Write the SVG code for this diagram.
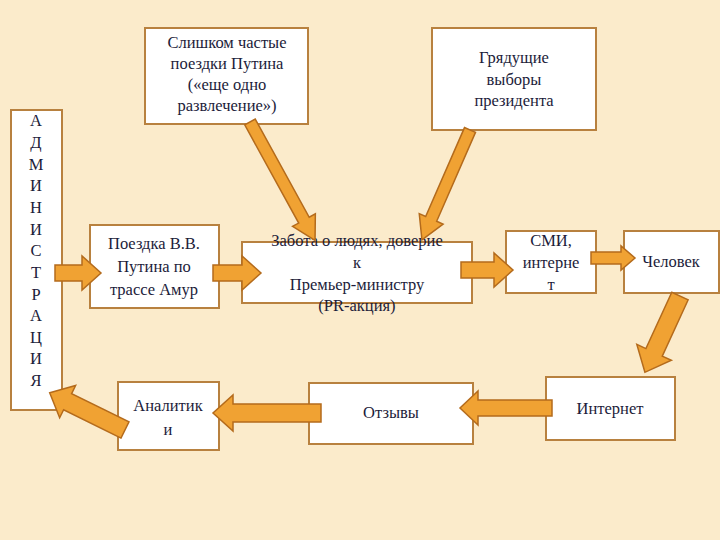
<svg xmlns="http://www.w3.org/2000/svg" width="720" height="540" viewBox="0 0 720 540">
<style>
.b{fill:#fff;stroke:#b8813f;stroke-width:2}
.t{font-family:'Liberation Serif','Times New Roman','DejaVu Serif',serif;font-size:16.5px;fill:#1c1c3a;text-anchor:middle}
.a{fill:#f0a233;stroke:#b46b1c;stroke-width:1.5}
</style>
<rect width="720" height="540" fill="#fbebcb"/>
<g id="admin"><rect class="b" x="11" y="110" width="51" height="300"/>
<text class="t"><tspan x="36" y="126">А</tspan><tspan x="36" y="148">Д</tspan><tspan x="36" y="170">М</tspan><tspan x="36" y="191">И</tspan><tspan x="36" y="213">Н</tspan><tspan x="36" y="235">И</tspan><tspan x="36" y="256">С</tspan><tspan x="36" y="278">Т</tspan><tspan x="36" y="300">Р</tspan><tspan x="36" y="321">А</tspan><tspan x="36" y="343">Ц</tspan><tspan x="36" y="364">И</tspan><tspan x="36" y="386">Я</tspan></text></g>
<g id="top1"><rect class="b" x="145" y="28" width="163" height="96"/>
<text class="t"><tspan x="227" y="48">Слишком частые</tspan><tspan x="227" y="69">поездки Путина</tspan><tspan x="227" y="90">(«еще одно</tspan><tspan x="227" y="111">развлечение»)</tspan></text></g>
<g id="top2"><rect class="b" x="432" y="28" width="164" height="102"/>
<text class="t"><tspan x="514" y="63">Грядущие</tspan><tspan x="514" y="85">выборы</tspan><tspan x="514" y="106">президента</tspan></text></g>
<g id="trip"><rect class="b" x="90" y="225" width="129" height="83"/>
<text class="t"><tspan x="154" y="249">Поездка В.В.</tspan><tspan x="154" y="272">Путина по</tspan><tspan x="154" y="295">трассе Амур</tspan></text></g>
<g id="care"><rect class="b" x="242" y="242" width="230" height="61"/>
<text class="t"><tspan x="357" y="246">Забота о людях, доверие</tspan><tspan x="357" y="268">к</tspan><tspan x="357" y="290">Премьер-министру</tspan><tspan x="357" y="311">(PR-акция)</tspan></text></g>
<g id="smi"><rect class="b" x="506" y="231" width="90" height="62"/>
<text class="t"><tspan x="551" y="246">СМИ,</tspan><tspan x="551" y="268">интерне</tspan><tspan x="551" y="290">т</tspan></text></g>
<g id="person"><rect class="b" x="624" y="231" width="95" height="62"/>
<text class="t" x="671" y="267">Человек</text></g>
<g id="internet"><rect class="b" x="546" y="377" width="129" height="63"/>
<text class="t" x="610" y="414">Интернет</text></g>
<g id="reviews"><rect class="b" x="309" y="383" width="164" height="61"/>
<text class="t" x="391" y="418">Отзывы</text></g>
<g id="analytics"><rect class="b" x="118" y="382" width="101" height="68"/>
<text class="t"><tspan x="168" y="411">Аналитик</tspan><tspan x="168" y="435">и</tspan></text></g>
<g id="connectors">
<path class="a" transform="translate(55,273)" d="M0,-8 L27,-8 L27,-17 L46,0 L27,17 L27,8 L0,8 Z"/>
<path class="a" transform="translate(213,273)" d="M0,-8 L29,-8 L29,-17 L48,0 L29,17 L29,8 L0,8 Z"/>
<path class="a" transform="translate(461,270)" d="M0,-8 L33,-8 L33,-17 L52,0 L33,17 L33,8 L0,8 Z"/>
<path class="a" transform="translate(591,258)" d="M0,-6 L30,-6 L30,-12 L44,0 L30,12 L30,6 L0,6 Z"/>
<path class="a" transform="translate(680,296) rotate(114.7)" d="M0,-9 L62,-9 L62,-19 L84,0 L62,19 L62,9 L0,9 Z"/>
<path class="a" transform="translate(552,408) rotate(180)" d="M0,-8 L74,-8 L74,-17 L92,0 L74,17 L74,8 L0,8 Z"/>
<path class="a" transform="translate(321,413) rotate(180)" d="M0,-9 L88,-9 L88,-18 L108,0 L88,18 L88,9 L0,9 Z"/>
<path class="a" transform="translate(125,430) rotate(206.3)" d="M0,-9 L64,-9 L64,-18 L84,0 L64,18 L64,9 L0,9 Z"/>
<path class="a" transform="translate(250,122) rotate(61.2)" d="M0,-6 L112,-6 L112,-13 L135,0 L112,13 L112,6 L0,6 Z"/>
<path class="a" transform="translate(470,130) rotate(113.6)" d="M0,-6 L97,-6 L97,-13 L120,0 L97,13 L97,6 L0,6 Z"/>
</g>
</svg>
